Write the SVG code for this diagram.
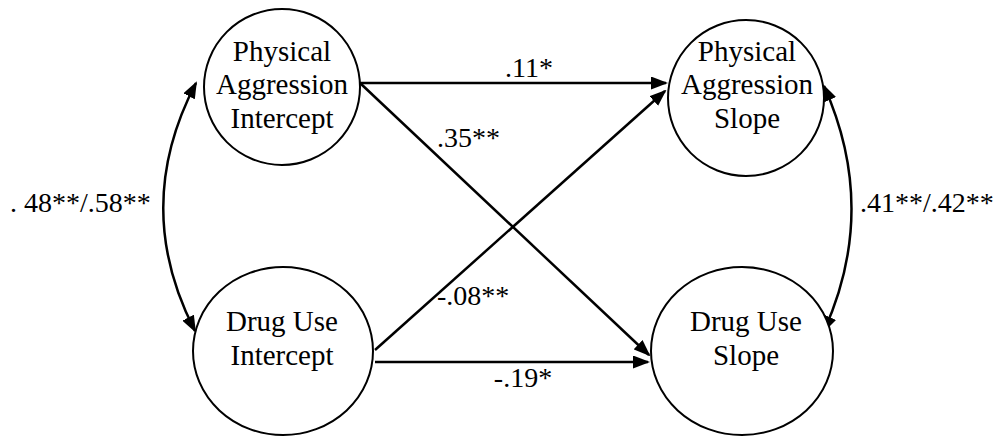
<svg xmlns="http://www.w3.org/2000/svg" width="998" height="437" viewBox="0 0 998 437">
<style>
.node ellipse{fill:#fff;stroke:#000;stroke-width:2}
text{font-family:'Liberation Serif','DejaVu Serif',serif;font-size:28px;fill:#000}
.node text{text-anchor:middle;font-size:29px}
.conn path{fill:none;stroke:#000;stroke-width:2.5}
</style>
<defs>
<marker id="ah" viewBox="0 0 17 13" markerUnits="userSpaceOnUse" markerWidth="17" markerHeight="13" refX="15" refY="6.5" orient="auto-start-reverse">
<path d="M0,0 L17,6.5 L0,13 z" fill="#000"/>
</marker>
</defs>
<g class="conn">
<path d="M360,83 L666,83" marker-end="url(#ah)"/>
<path d="M360,83 L649,355" marker-end="url(#ah)"/>
<path d="M375,350 L665,91" marker-end="url(#ah)"/>
<path d="M375,362 L648,362" marker-end="url(#ah)"/>
<path d="M196,83 Q131,207 195,331" marker-start="url(#ah)" marker-end="url(#ah)"/>
<path d="M824,86 Q879,209 824,331" marker-start="url(#ah)" marker-end="url(#ah)"/>
</g>
<g id="labels">
<text x="529" y="77" text-anchor="middle">.11*</text>
<text x="437" y="147">.35**</text>
<text x="437" y="305">-.08**</text>
<text x="523" y="387" text-anchor="middle">-.19*</text>
<text x="10" y="212">. 48**/.58**</text>
<text x="860" y="212">.41**/.42**</text>
</g>
<g id="pa-intercept" class="node">
<ellipse cx="282" cy="87" rx="78" ry="78"/>
<text x="282" y="61">Physical</text>
<text x="282" y="94">Aggression</text>
<text x="282" y="128">Intercept</text>
</g>
<g id="pa-slope" class="node">
<ellipse cx="746" cy="98" rx="78" ry="78"/>
<text x="747" y="61">Physical</text>
<text x="747" y="94">Aggression</text>
<text x="747" y="128">Slope</text>
</g>
<g id="du-intercept" class="node">
<ellipse cx="283" cy="351" rx="90" ry="84"/>
<text x="282" y="331">Drug Use</text>
<text x="282" y="365">Intercept</text>
</g>
<g id="du-slope" class="node">
<ellipse cx="742" cy="351" rx="91" ry="84"/>
<text x="746" y="331">Drug Use</text>
<text x="746" y="365">Slope</text>
</g>
</svg>
